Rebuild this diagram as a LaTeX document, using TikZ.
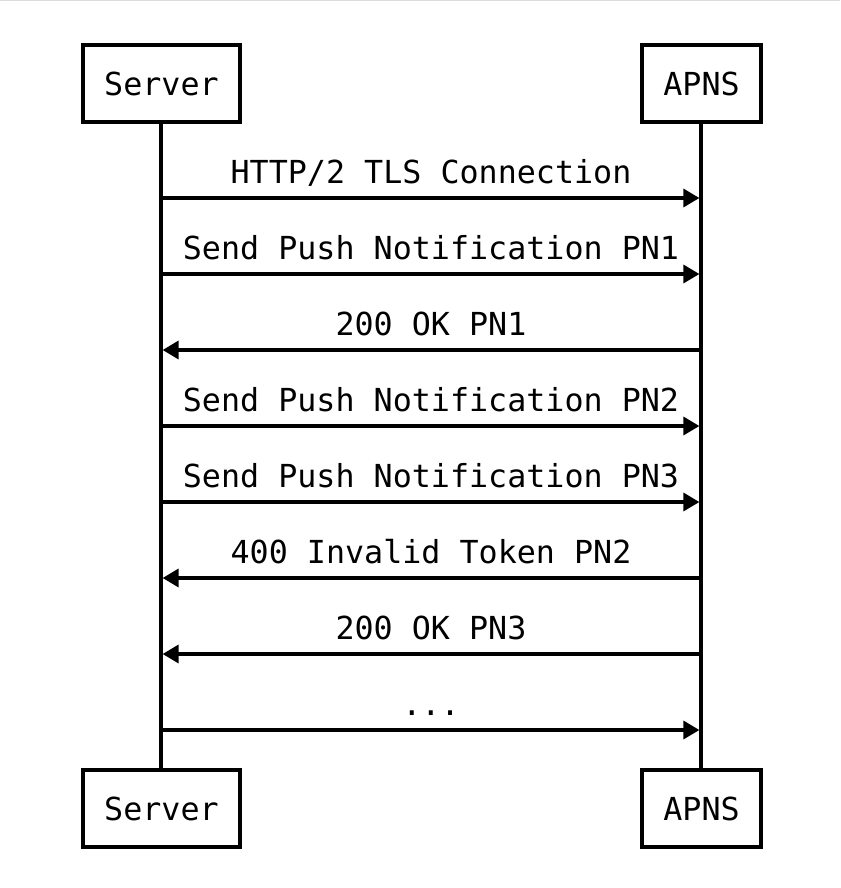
\documentclass[tikz,border=0pt]{standalone}
\usepackage{fontspec}
\setmonofont{DejaVu Sans Mono}
\usetikzlibrary{arrows.meta}
\tikzset{
  actor/.style={draw=black, line width=4pt, fill=white, inner sep=0pt, font=\ttfamily\fontsize{31.7}{36}\selectfont},
  life/.style={draw=black, line width=3.3pt},
  msg/.style={draw=black, line width=3.3pt, -{Triangle[length=16pt,width=18pt]}, shorten >=1.6pt},
  lbl/.style={anchor=base, yshift=15pt, inner sep=0pt, font=\ttfamily\fontsize{31.7}{36}\selectfont}
}
\begin{document}
\begin{tikzpicture}[x=1pt,y=-1pt]
\useasboundingbox (0,0) rectangle (840,888);
\fill[white] (0,0) rectangle (840,888);
\draw[black!14, line width=1.2pt] (0,0.6) -- (840,0.6);
% lifelines
\coordinate (stop) at (161,122);
\coordinate (sbot) at (161,770);
\coordinate (atop) at (701,122);
\coordinate (abot) at (701,770);
\draw[life] (stop) -- (sbot);
\draw[life] (atop) -- (abot);
% actor boxes
\node[actor, minimum width=157pt, minimum height=77pt] (s1) at (161.5,83.5) {Server};
\node[actor, minimum width=119pt, minimum height=77pt] (a1) at (701.5,83.5) {APNS};
\node[actor, minimum width=157pt, minimum height=77pt] (s2) at (161.5,808.5) {Server};
\node[actor, minimum width=119pt, minimum height=77pt] (a2) at (701.5,808.5) {APNS};
% message end points
\foreach \i/\y in {1/198,2/274,3/350,4/426,5/502,6/578,7/654,8/730}{
  \coordinate (s\i) at (161,\y);
  \coordinate (a\i) at (701,\y);
}
\draw[msg] (s1) -- node[lbl]{HTTP/2 TLS Connection} (a1);
\draw[msg] (s2) -- node[lbl]{Send Push Notification PN1} (a2);
\draw[msg] (a3) -- node[lbl]{200 OK PN1} (s3);
\draw[msg] (s4) -- node[lbl]{Send Push Notification PN2} (a4);
\draw[msg] (s5) -- node[lbl]{Send Push Notification PN3} (a5);
\draw[msg] (a6) -- node[lbl]{400 Invalid Token PN2} (s6);
\draw[msg] (a7) -- node[lbl]{200 OK PN3} (s7);
\draw[msg] (s8) -- node[lbl]{...} (a8);
\end{tikzpicture}
\end{document}
